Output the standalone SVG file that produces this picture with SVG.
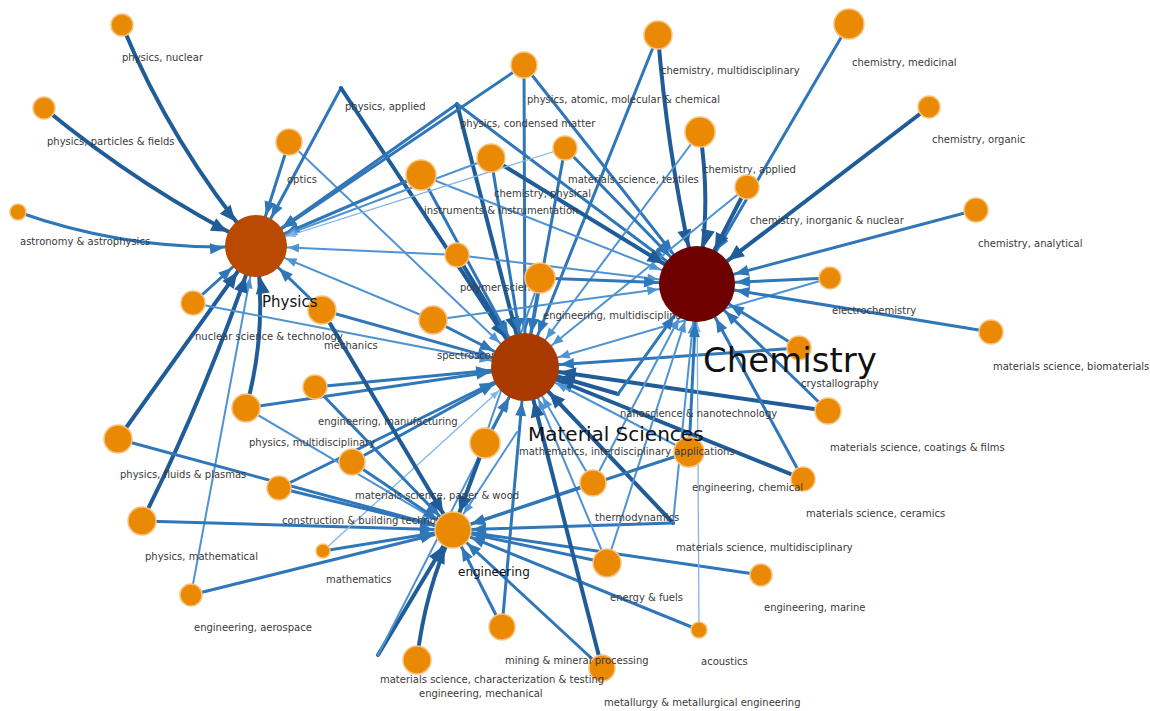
<svg xmlns="http://www.w3.org/2000/svg" width="1150" height="711" viewBox="0 0 1150 711">
<style>
.d,.m,.l,.t{fill:none;stroke-linecap:round}
.d{stroke:#1f5c98;stroke-width:4}
.m{stroke:#3077b9;stroke-width:3}
.l{stroke:#4f93d3;stroke-width:2}
.t{stroke:#82b5e6;stroke-width:1.3}
.leaf circle{fill:#ea8a04;stroke:#f7c27e;stroke-width:1.5}
text{font-family:"DejaVu Sans","Liberation Sans",sans-serif;font-size:10px;fill:#3a3a3a}
.hub text{fill:#111}
</style>
<defs>
<marker id="P-d" markerUnits="userSpaceOnUse" markerWidth="1" markerHeight="1" orient="auto" style="overflow:visible"><path d="M-32,0 L-48,-7 L-48,7 Z" fill="#1f5c98"/></marker>
<marker id="P-m" markerUnits="userSpaceOnUse" markerWidth="1" markerHeight="1" orient="auto" style="overflow:visible"><path d="M-32,0 L-46,-5.5 L-46,5.5 Z" fill="#3077b9"/></marker>
<marker id="P-l" markerUnits="userSpaceOnUse" markerWidth="1" markerHeight="1" orient="auto" style="overflow:visible"><path d="M-32,0 L-43,-4.5 L-43,4.5 Z" fill="#4f93d3"/></marker>
<marker id="P-t" markerUnits="userSpaceOnUse" markerWidth="1" markerHeight="1" orient="auto" style="overflow:visible"><path d="M-32,0 L-41,-3.5 L-41,3.5 Z" fill="#82b5e6"/></marker>
<marker id="C-d" markerUnits="userSpaceOnUse" markerWidth="1" markerHeight="1" orient="auto" style="overflow:visible"><path d="M-39,0 L-55,-7 L-55,7 Z" fill="#1f5c98"/></marker>
<marker id="C-m" markerUnits="userSpaceOnUse" markerWidth="1" markerHeight="1" orient="auto" style="overflow:visible"><path d="M-39,0 L-53,-5.5 L-53,5.5 Z" fill="#3077b9"/></marker>
<marker id="C-l" markerUnits="userSpaceOnUse" markerWidth="1" markerHeight="1" orient="auto" style="overflow:visible"><path d="M-39,0 L-50,-4.5 L-50,4.5 Z" fill="#4f93d3"/></marker>
<marker id="C-t" markerUnits="userSpaceOnUse" markerWidth="1" markerHeight="1" orient="auto" style="overflow:visible"><path d="M-39,0 L-48,-3.5 L-48,3.5 Z" fill="#82b5e6"/></marker>
<marker id="M-d" markerUnits="userSpaceOnUse" markerWidth="1" markerHeight="1" orient="auto" style="overflow:visible"><path d="M-35,0 L-51,-7 L-51,7 Z" fill="#1f5c98"/></marker>
<marker id="M-m" markerUnits="userSpaceOnUse" markerWidth="1" markerHeight="1" orient="auto" style="overflow:visible"><path d="M-35,0 L-49,-5.5 L-49,5.5 Z" fill="#3077b9"/></marker>
<marker id="M-l" markerUnits="userSpaceOnUse" markerWidth="1" markerHeight="1" orient="auto" style="overflow:visible"><path d="M-35,0 L-46,-4.5 L-46,4.5 Z" fill="#4f93d3"/></marker>
<marker id="M-t" markerUnits="userSpaceOnUse" markerWidth="1" markerHeight="1" orient="auto" style="overflow:visible"><path d="M-35,0 L-44,-3.5 L-44,3.5 Z" fill="#82b5e6"/></marker>
<marker id="E-d" markerUnits="userSpaceOnUse" markerWidth="1" markerHeight="1" orient="auto" style="overflow:visible"><path d="M-19,0 L-35,-7 L-35,7 Z" fill="#1f5c98"/></marker>
<marker id="E-m" markerUnits="userSpaceOnUse" markerWidth="1" markerHeight="1" orient="auto" style="overflow:visible"><path d="M-19,0 L-33,-5.5 L-33,5.5 Z" fill="#3077b9"/></marker>
<marker id="E-l" markerUnits="userSpaceOnUse" markerWidth="1" markerHeight="1" orient="auto" style="overflow:visible"><path d="M-19,0 L-30,-4.5 L-30,4.5 Z" fill="#4f93d3"/></marker>
<marker id="E-t" markerUnits="userSpaceOnUse" markerWidth="1" markerHeight="1" orient="auto" style="overflow:visible"><path d="M-19,0 L-28,-3.5 L-28,3.5 Z" fill="#82b5e6"/></marker>
</defs>
<rect width="1150" height="711" fill="#fff"/>
<g id="connectors">
<path d="M122,25 Q172,146 256,246" class="d" marker-end="url(#P-d)"/>
<path d="M44,108 Q142,189 256,246" class="d" marker-end="url(#P-d)"/>
<path d="M18,212 Q134,253 256,246" class="m" marker-end="url(#P-m)"/>
<line x1="289" y1="142" x2="256" y2="246" class="m" marker-end="url(#P-m)"/>
<line x1="289" y1="142" x2="525" y2="367" class="l" marker-end="url(#M-l)"/>
<line x1="341" y1="88" x2="256" y2="246" class="m" marker-end="url(#P-m)"/>
<line x1="341" y1="88" x2="525" y2="367" class="d" marker-end="url(#M-d)"/>
<line x1="457" y1="104" x2="256" y2="246" class="m" marker-end="url(#P-m)"/>
<line x1="457" y1="104" x2="525" y2="367" class="d" marker-end="url(#M-d)"/>
<line x1="457" y1="104" x2="697" y2="284" class="m" marker-end="url(#C-m)"/>
<line x1="524" y1="65" x2="256" y2="246" class="m" marker-end="url(#P-m)"/>
<line x1="524" y1="65" x2="525" y2="367" class="m" marker-end="url(#M-m)"/>
<line x1="524" y1="65" x2="697" y2="284" class="m" marker-end="url(#C-m)"/>
<path d="M658,35 Q668,162 697,284" class="d" marker-end="url(#C-d)"/>
<line x1="658" y1="35" x2="525" y2="367" class="m" marker-end="url(#M-m)"/>
<line x1="849" y1="24" x2="697" y2="284" class="m" marker-end="url(#C-m)"/>
<line x1="929" y1="107" x2="697" y2="284" class="d" marker-end="url(#C-d)"/>
<path d="M700,132 Q712,210 697,284" class="d" marker-end="url(#C-d)"/>
<line x1="700" y1="132" x2="525" y2="367" class="l" marker-end="url(#M-l)"/>
<line x1="747" y1="187" x2="697" y2="284" class="d" marker-end="url(#C-d)"/>
<line x1="747" y1="187" x2="525" y2="367" class="l" marker-end="url(#M-l)"/>
<line x1="976" y1="210" x2="697" y2="284" class="m" marker-end="url(#C-m)"/>
<line x1="830" y1="278" x2="697" y2="284" class="m" marker-end="url(#C-m)"/>
<line x1="830" y1="278" x2="525" y2="367" class="l" marker-end="url(#M-l)"/>
<line x1="991" y1="332" x2="697" y2="284" class="m" marker-end="url(#C-m)"/>
<line x1="799" y1="348" x2="697" y2="284" class="m" marker-end="url(#C-m)"/>
<line x1="799" y1="348" x2="525" y2="367" class="m" marker-end="url(#M-m)"/>
<line x1="828" y1="411" x2="525" y2="367" class="d" marker-end="url(#M-d)"/>
<line x1="828" y1="411" x2="697" y2="284" class="m" marker-end="url(#C-m)"/>
<line x1="803" y1="479" x2="525" y2="367" class="d" marker-end="url(#M-d)"/>
<line x1="803" y1="479" x2="697" y2="284" class="m" marker-end="url(#C-m)"/>
<line x1="673" y1="523" x2="525" y2="367" class="d" marker-end="url(#M-d)"/>
<line x1="673" y1="523" x2="697" y2="284" class="l" marker-end="url(#C-l)"/>
<line x1="673" y1="523" x2="453" y2="530" class="m" marker-end="url(#E-m)"/>
<line x1="761" y1="575" x2="453" y2="530" class="m" marker-end="url(#E-m)"/>
<line x1="699" y1="630" x2="453" y2="530" class="m" marker-end="url(#E-m)"/>
<line x1="699" y1="630" x2="697" y2="284" class="t" marker-end="url(#C-t)"/>
<line x1="607" y1="563" x2="453" y2="530" class="m" marker-end="url(#E-m)"/>
<line x1="607" y1="563" x2="697" y2="284" class="l" marker-end="url(#C-l)"/>
<line x1="607" y1="563" x2="525" y2="367" class="l" marker-end="url(#M-l)"/>
<line x1="689" y1="452" x2="697" y2="284" class="m" marker-end="url(#C-m)"/>
<line x1="689" y1="452" x2="453" y2="530" class="m" marker-end="url(#E-m)"/>
<line x1="689" y1="452" x2="525" y2="367" class="l" marker-end="url(#M-l)"/>
<line x1="593" y1="483" x2="453" y2="530" class="m" marker-end="url(#E-m)"/>
<line x1="593" y1="483" x2="697" y2="284" class="l" marker-end="url(#C-l)"/>
<line x1="593" y1="483" x2="525" y2="367" class="l" marker-end="url(#M-l)"/>
<line x1="602" y1="668" x2="525" y2="367" class="d" marker-end="url(#M-d)"/>
<line x1="602" y1="668" x2="453" y2="530" class="m" marker-end="url(#E-m)"/>
<line x1="502" y1="627" x2="453" y2="530" class="m" marker-end="url(#E-m)"/>
<line x1="502" y1="627" x2="525" y2="367" class="m" marker-end="url(#M-m)"/>
<path d="M417,660 Q425,590 453,530" class="d" marker-end="url(#E-d)"/>
<line x1="378" y1="655" x2="453" y2="530" class="d" marker-end="url(#E-d)"/>
<line x1="378" y1="655" x2="525" y2="367" class="l" marker-end="url(#M-l)"/>
<line x1="191" y1="595" x2="453" y2="530" class="m" marker-end="url(#E-m)"/>
<line x1="191" y1="595" x2="256" y2="246" class="l" marker-end="url(#P-l)"/>
<path d="M142,521 Q207,392 256,246" class="d" marker-end="url(#P-d)"/>
<line x1="142" y1="521" x2="453" y2="530" class="m" marker-end="url(#E-m)"/>
<line x1="323" y1="551" x2="453" y2="530" class="m" marker-end="url(#E-m)"/>
<line x1="323" y1="551" x2="525" y2="367" class="t" marker-end="url(#M-t)"/>
<line x1="279" y1="488" x2="453" y2="530" class="m" marker-end="url(#E-m)"/>
<line x1="279" y1="488" x2="525" y2="367" class="m" marker-end="url(#M-m)"/>
<line x1="118" y1="439" x2="256" y2="246" class="d" marker-end="url(#P-d)"/>
<line x1="118" y1="439" x2="453" y2="530" class="m" marker-end="url(#E-m)"/>
<path d="M246,408 Q268,330 256,246" class="d" marker-end="url(#P-d)"/>
<line x1="246" y1="408" x2="525" y2="367" class="m" marker-end="url(#M-m)"/>
<line x1="246" y1="408" x2="453" y2="530" class="l" marker-end="url(#E-l)"/>
<line x1="352" y1="462" x2="453" y2="530" class="m" marker-end="url(#E-m)"/>
<line x1="352" y1="462" x2="525" y2="367" class="m" marker-end="url(#M-m)"/>
<line x1="315" y1="387" x2="525" y2="367" class="m" marker-end="url(#M-m)"/>
<line x1="315" y1="387" x2="453" y2="530" class="m" marker-end="url(#E-m)"/>
<line x1="193" y1="303" x2="256" y2="246" class="m" marker-end="url(#P-m)"/>
<line x1="193" y1="303" x2="525" y2="367" class="l" marker-end="url(#M-l)"/>
<line x1="322" y1="310" x2="256" y2="246" class="m" marker-end="url(#P-m)"/>
<line x1="322" y1="310" x2="453" y2="530" class="d" marker-end="url(#E-d)"/>
<line x1="322" y1="310" x2="525" y2="367" class="m" marker-end="url(#M-m)"/>
<line x1="433" y1="320" x2="525" y2="367" class="m" marker-end="url(#M-m)"/>
<line x1="433" y1="320" x2="256" y2="246" class="l" marker-end="url(#P-l)"/>
<line x1="433" y1="320" x2="697" y2="284" class="l" marker-end="url(#C-l)"/>
<line x1="457" y1="255" x2="525" y2="367" class="d" marker-end="url(#M-d)"/>
<line x1="457" y1="255" x2="697" y2="284" class="l" marker-end="url(#C-l)"/>
<line x1="457" y1="255" x2="256" y2="246" class="l" marker-end="url(#P-l)"/>
<line x1="540" y1="278" x2="525" y2="367" class="m" marker-end="url(#M-m)"/>
<line x1="540" y1="278" x2="697" y2="284" class="m" marker-end="url(#C-m)"/>
<line x1="540" y1="278" x2="453" y2="530" class="l" marker-end="url(#E-l)"/>
<line x1="421" y1="175" x2="256" y2="246" class="m" marker-end="url(#P-m)"/>
<line x1="421" y1="175" x2="525" y2="367" class="m" marker-end="url(#M-m)"/>
<line x1="421" y1="175" x2="697" y2="284" class="l" marker-end="url(#C-l)"/>
<line x1="491" y1="158" x2="697" y2="284" class="d" marker-end="url(#C-d)"/>
<line x1="491" y1="158" x2="525" y2="367" class="m" marker-end="url(#M-m)"/>
<line x1="491" y1="158" x2="256" y2="246" class="l" marker-end="url(#P-l)"/>
<line x1="565" y1="148" x2="525" y2="367" class="m" marker-end="url(#M-m)"/>
<line x1="565" y1="148" x2="697" y2="284" class="m" marker-end="url(#C-m)"/>
<line x1="565" y1="148" x2="256" y2="246" class="t" marker-end="url(#P-t)"/>
<line x1="618" y1="394" x2="525" y2="367" class="d" marker-end="url(#M-d)"/>
<line x1="618" y1="394" x2="697" y2="284" class="m" marker-end="url(#C-m)"/>
<line x1="517" y1="432" x2="453" y2="530" class="l" marker-end="url(#E-l)"/>
<line x1="485" y1="443" x2="525" y2="367" class="m" marker-end="url(#M-m)"/>
<line x1="485" y1="443" x2="453" y2="530" class="d" marker-end="url(#E-d)"/>
</g>
<g id="n-physics-nuclear" class="leaf"><circle cx="122" cy="25" r="11"/><text x="122" y="61">physics, nuclear</text></g>
<g id="n-physics-particles" class="leaf"><circle cx="44" cy="108" r="11"/><text x="47" y="145">physics, particles &amp; fields</text></g>
<g id="n-astronomy" class="leaf"><circle cx="18" cy="212" r="8"/><text x="20" y="245">astronomy &amp; astrophysics</text></g>
<g id="n-optics" class="leaf"><circle cx="289" cy="142" r="13"/><text x="287" y="183">optics</text></g>
<g id="n-physics-applied" class="leaf"><text x="345" y="110">physics, applied</text></g>
<g id="n-physics-condensed" class="leaf"><text x="460" y="127">physics, condensed matter</text></g>
<g id="n-physics-atomic" class="leaf"><circle cx="524" cy="65" r="13"/><text x="527" y="103">physics, atomic, molecular &amp; chemical</text></g>
<g id="n-chem-multi" class="leaf"><circle cx="658" cy="35" r="14"/><text x="661" y="74">chemistry, multidisciplinary</text></g>
<g id="n-chem-medicinal" class="leaf"><circle cx="849" cy="24" r="15"/><text x="852" y="66">chemistry, medicinal</text></g>
<g id="n-chem-organic" class="leaf"><circle cx="929" cy="107" r="11"/><text x="932" y="143">chemistry, organic</text></g>
<g id="n-chem-applied" class="leaf"><circle cx="700" cy="132" r="15"/><text x="703" y="173">chemistry, applied</text></g>
<g id="n-chem-inorganic" class="leaf"><circle cx="747" cy="187" r="12"/><text x="750" y="224">chemistry, inorganic &amp; nuclear</text></g>
<g id="n-chem-analytical" class="leaf"><circle cx="976" cy="210" r="12"/><text x="978" y="247">chemistry, analytical</text></g>
<g id="n-electrochemistry" class="leaf"><circle cx="830" cy="278" r="11"/><text x="832" y="314">electrochemistry</text></g>
<g id="n-ms-biomaterials" class="leaf"><circle cx="991" cy="332" r="12"/><text x="993" y="370">materials science, biomaterials</text></g>
<g id="n-crystallography" class="leaf"><circle cx="799" cy="348" r="12"/><text x="801" y="387">crystallography</text></g>
<g id="n-ms-coatings" class="leaf"><circle cx="828" cy="411" r="13"/><text x="830" y="451">materials science, coatings &amp; films</text></g>
<g id="n-ms-ceramics" class="leaf"><circle cx="803" cy="479" r="12"/><text x="806" y="517">materials science, ceramics</text></g>
<g id="n-ms-multi" class="leaf"><text x="676" y="551">materials science, multidisciplinary</text></g>
<g id="n-eng-marine" class="leaf"><circle cx="761" cy="575" r="11"/><text x="764" y="611">engineering, marine</text></g>
<g id="n-acoustics" class="leaf"><circle cx="699" cy="630" r="8"/><text x="701" y="665">acoustics</text></g>
<g id="n-energy" class="leaf"><circle cx="607" cy="563" r="14"/><text x="610" y="601">energy &amp; fuels</text></g>
<g id="n-eng-chemical" class="leaf"><circle cx="689" cy="452" r="15"/><text x="692" y="491">engineering, chemical</text></g>
<g id="n-thermodynamics" class="leaf"><circle cx="593" cy="483" r="13"/><text x="595" y="521">thermodynamics</text></g>
<g id="n-metallurgy" class="leaf"><circle cx="602" cy="668" r="13"/><text x="604" y="706">metallurgy &amp; metallurgical engineering</text></g>
<g id="n-mining" class="leaf"><circle cx="502" cy="627" r="13"/><text x="505" y="664">mining &amp; mineral processing</text></g>
<g id="n-eng-mechanical" class="leaf"><circle cx="417" cy="660" r="14"/><text x="419" y="697">engineering, mechanical</text></g>
<g id="n-ms-characterization" class="leaf"><text x="380" y="683">materials science, characterization &amp; testing</text></g>
<g id="n-eng-aerospace" class="leaf"><circle cx="191" cy="595" r="11"/><text x="194" y="631">engineering, aerospace</text></g>
<g id="n-physics-math" class="leaf"><circle cx="142" cy="521" r="14"/><text x="145" y="560">physics, mathematical</text></g>
<g id="n-mathematics" class="leaf"><circle cx="323" cy="551" r="7"/><text x="326" y="583">mathematics</text></g>
<g id="n-construction" class="leaf"><circle cx="279" cy="488" r="12"/><text x="282" y="524">construction &amp; building technology</text></g>
<g id="n-physics-fluids" class="leaf"><circle cx="118" cy="439" r="14"/><text x="120" y="478">physics, fluids &amp; plasmas</text></g>
<g id="n-physics-multi" class="leaf"><circle cx="246" cy="408" r="14"/><text x="249" y="446">physics, multidisciplinary</text></g>
<g id="n-ms-paper" class="leaf"><circle cx="352" cy="462" r="13"/><text x="355" y="499">materials science, paper &amp; wood</text></g>
<g id="n-eng-manufacturing" class="leaf"><circle cx="315" cy="387" r="12"/><text x="318" y="425">engineering, manufacturing</text></g>
<g id="n-nuclear-sci" class="leaf"><circle cx="193" cy="303" r="12"/><text x="195" y="340">nuclear science &amp; technology</text></g>
<g id="n-mechanics" class="leaf"><circle cx="322" cy="310" r="14"/><text x="324" y="349">mechanics</text></g>
<g id="n-spectroscopy" class="leaf"><circle cx="433" cy="320" r="14"/><text x="437" y="359">spectroscopy</text></g>
<g id="n-polymer" class="leaf"><circle cx="457" cy="255" r="12"/><text x="460" y="291">polymer science</text></g>
<g id="n-eng-multi" class="leaf"><circle cx="540" cy="278" r="15"/><text x="543" y="319">engineering, multidisciplinary</text></g>
<g id="n-instruments" class="leaf"><circle cx="421" cy="175" r="15"/><text x="424" y="214">instruments &amp; instrumentation</text></g>
<g id="n-chem-physical" class="leaf"><circle cx="491" cy="158" r="14"/><text x="494" y="197">chemistry, physical</text></g>
<g id="n-ms-textiles" class="leaf"><circle cx="565" cy="148" r="12"/><text x="568" y="183">materials science, textiles</text></g>
<g id="n-nanoscience" class="leaf"><text x="620" y="417">nanoscience &amp; nanotechnology</text></g>
<g id="n-math-interdisc" class="leaf"><text x="519" y="455">mathematics, interdisciplinary applications</text></g>
<g id="n-unlabeled" class="leaf"><circle cx="485" cy="443" r="15"/></g>
<g id="n-engineering" class="leaf hub"><circle cx="453" cy="530" r="18"/><text x="458" y="576" style="font-size:12px">engineering</text></g>
<g id="n-physics" class="hub"><circle cx="256" cy="246" r="31" fill="#b94a00"/><text x="262" y="307" style="font-size:15px">Physics</text></g>
<g id="n-material-sciences" class="hub"><circle cx="525" cy="367" r="34" fill="#a83a00"/><text x="528" y="441" style="font-size:20px">Material Sciences</text></g>
<g id="n-chemistry" class="hub"><circle cx="697" cy="284" r="38" fill="#6e0000"/><text x="703" y="372" style="font-size:34px">Chemistry</text></g>
</svg>
